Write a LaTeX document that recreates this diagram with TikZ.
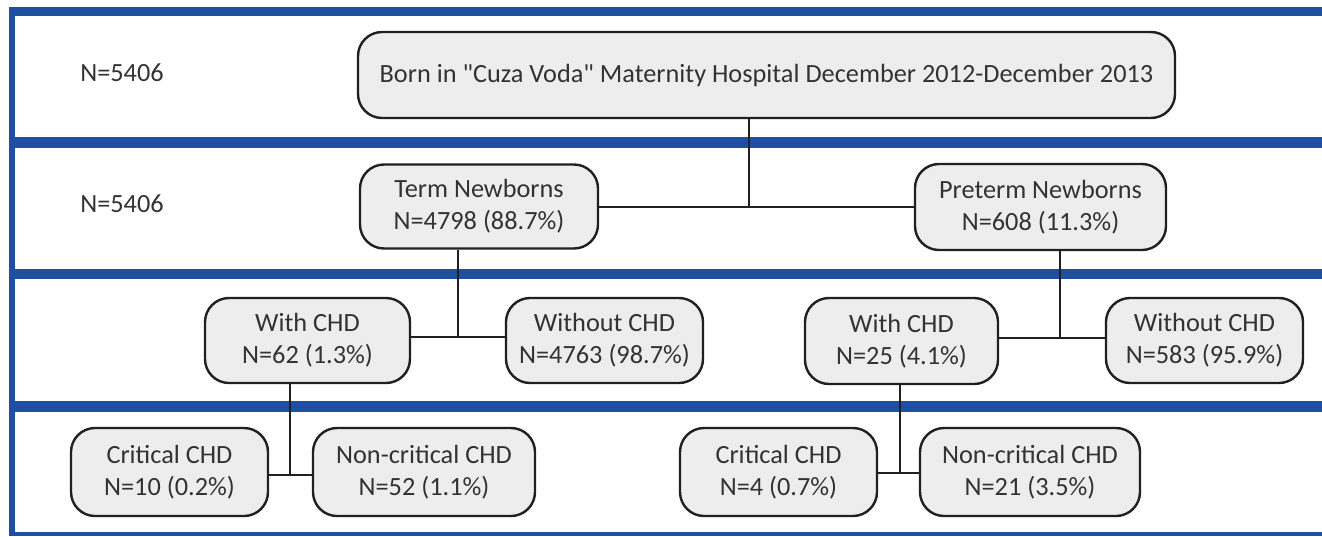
\documentclass[tikz,border=0pt]{standalone}
\usepackage{fontspec}
\setmainfont{Carlito}[Ligatures=TeXOff]
\definecolor{bandblue}{RGB}{31,79,160}
\definecolor{boxfill}{RGB}{237,237,237}
\definecolor{boxline}{RGB}{35,31,32}
\definecolor{txt}{RGB}{51,51,51}
\begin{document}
\begin{tikzpicture}[x=1pt,y=-1pt,
  box/.style={draw=boxline, fill=boxfill, line width=2.4pt, rounded corners=24pt,
    align=center, text=txt, font=\fontsize{26.3}{32}\selectfont, inner sep=0pt},
  lbl/.style={text=txt, font=\fontsize{26.3}{32}\selectfont, inner sep=0pt},
  link/.style={draw=boxline, line width=2.4pt}]
\useasboundingbox (0,0) rectangle (1322,536);
% blue frame and bands
\fill[bandblue] (9,7) rectangle (15,536);
\fill[bandblue] (9,7) rectangle (1322,16);
\fill[bandblue] (9,137) rectangle (1322,148);
\fill[bandblue] (9,269) rectangle (1322,279);
\fill[bandblue] (9,401) rectangle (1322,412);
\fill[bandblue] (9,532) rectangle (1322,536);
% side labels
\node[lbl] (n1) at (122,73) {N=5406};
\node[lbl] (n2) at (122,204) {N=5406};
% boxes
\node[box, minimum width=817pt, minimum height=86pt] (born) at (766.5,75)
  {Born in "Cuza Voda" Maternity Hospital December 2012-December 2013};
\node[box, minimum width=238pt, minimum height=84pt] (term) at (479,206.5)
  {Term Newborns\\N=4798 (88.7\%)};
\node[box, minimum width=251pt, minimum height=86pt] (pre) at (1040.5,207)
  {Preterm Newborns\\N=608 (11.3\%)};
\node[box, minimum width=205pt, minimum height=85pt] (withL) at (307.5,340.5)
  {With CHD\\N=62 (1.3\%)};
\node[box, minimum width=197pt, minimum height=85pt] (woL) at (604.5,340.5)
  {Without CHD\\N=4763 (98.7\%)};
\node[box, minimum width=193pt, minimum height=86pt] (withR) at (901.5,341)
  {With CHD\\N=25 (4.1\%)};
\node[box, minimum width=197pt, minimum height=85pt] (woR) at (1204.5,340.5)
  {Without CHD\\N=583 (95.9\%)};
\node[box, minimum width=197pt, minimum height=88pt] (critL) at (169.5,472)
  {Critical CHD\\N=10 (0.2\%)};
\node[box, minimum width=222pt, minimum height=88pt] (ncL) at (424,472)
  {Non-critical CHD\\N=52 (1.1\%)};
\node[box, minimum width=197pt, minimum height=88pt] (critR) at (778.5,472)
  {Critical CHD\\N=4 (0.7\%)};
\node[box, minimum width=220pt, minimum height=88pt] (ncR) at (1030,472)
  {Non-critical CHD\\N=21 (3.5\%)};
% junctions
\coordinate (j1) at (749,207);
\coordinate (j2) at (458,337);
\coordinate (j3) at (1060,338);
\coordinate (j4) at (290,475);
\coordinate (j5) at (900,473);
% connectors
\draw[link] (born.south -| j1) -- (j1);
\draw[link] (term.east |- j1) -- (pre.west |- j1);
\draw[link] (term.south -| j2) -- (j2);
\draw[link] (withL.east |- j2) -- (woL.west |- j2);
\draw[link] (pre.south -| j3) -- (j3);
\draw[link] (withR.east |- j3) -- (woR.west |- j3);
\draw[link] (withL.south -| j4) -- (j4);
\draw[link] (critL.east |- j4) -- (ncL.west |- j4);
\draw[link] (withR.south -| j5) -- (j5);
\draw[link] (critR.east |- j5) -- (ncR.west |- j5);
\end{tikzpicture}
\end{document}
